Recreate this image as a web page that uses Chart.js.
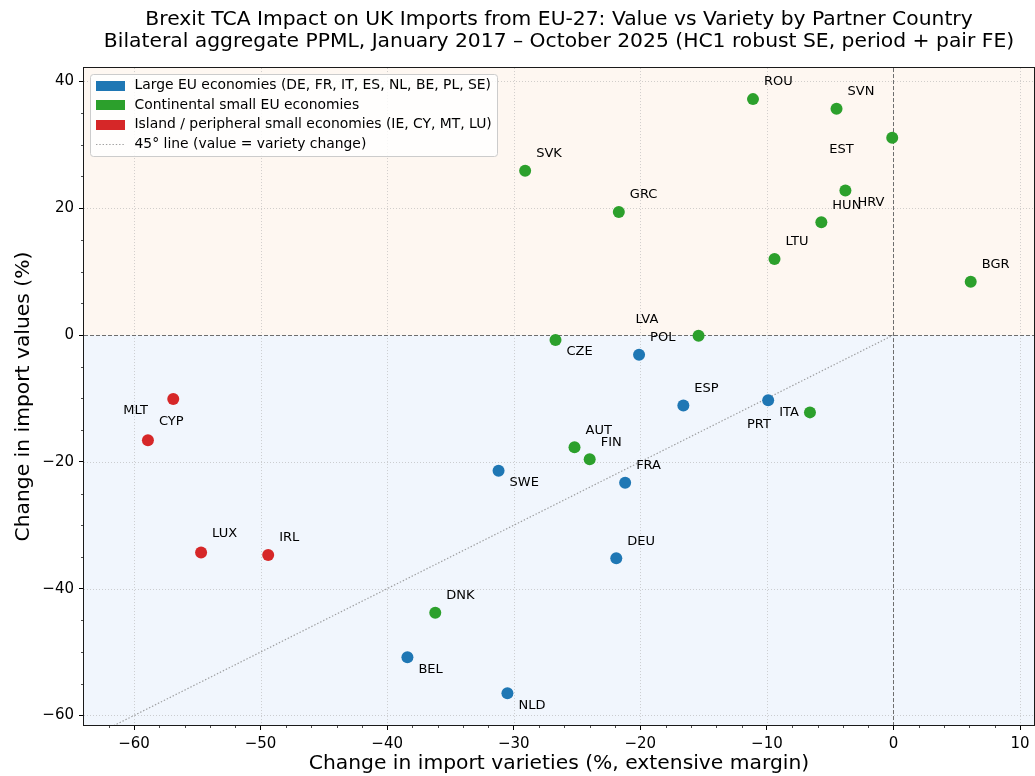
<!DOCTYPE html>
<html>
<head>
<meta charset="utf-8">
<script src="https://cdn.jsdelivr.net/npm/chart.js@4.4.1/dist/chart.umd.min.js"></script>
<style>
  html, body { margin: 0; padding: 0; background: #ffffff; }
  #wrap { width: 1035px; height: 776px; }
</style>
</head>
<body>
<div id="wrap"><canvas id="chart" width="1035" height="776"></canvas></div>
<script>
// Partner countries (ISO3) and their group
const countryCodes = ['DEU', 'FRA', 'ITA', 'ESP', 'NLD', 'BEL', 'POL', 'SWE',
  'AUT', 'CZE', 'DNK', 'EST', 'FIN', 'GRC', 'HRV', 'HUN', 'LVA', 'LTU', 'PRT', 'ROU', 'SVK', 'SVN', 'BGR',
  'IRL', 'CYP', 'MLT', 'LUX'];
const countryGroup = ['large', 'large', 'large', 'large', 'large', 'large', 'large', 'large',
  'continental', 'continental', 'continental', 'continental', 'continental', 'continental', 'continental',
  'continental', 'continental', 'continental', 'continental', 'continental', 'continental', 'continental', 'continental',
  'island', 'island', 'island', 'island'];
// Extensive margin: change in number of imported varieties (%)
const varietyChange = [-21.9, -21.2, -9.9, -16.6, -30.5, -38.4, -20.1, -31.2,
  -25.2, -26.7, -36.2, -0.1, -24.0, -21.7, -3.8, -5.7, -15.4, -9.4, -6.6, -11.1, -29.1, -4.5, 6.1,
  -49.4, -58.9, -56.9, -54.7];
// Change in import values (%)
const valueChange = [-35.2, -23.3, -10.3, -11.1, -56.5, -50.8, -3.1, -21.4,
  -17.7, -0.8, -43.8, 31.1, -19.6, 19.4, 22.8, 17.8, -0.1, 12.0, -12.2, 37.2, 25.9, 35.7, 8.4,
  -34.7, -16.6, -10.1, -34.3];

const groupKeys = ['large', 'continental', 'island'];
const groupNames = ['Large EU economies (DE, FR, IT, ES, NL, BE, PL, SE)',
  'Continental small EU economies',
  'Island / peripheral small economies (IE, CY, MT, LU)'];
const diagonalName = '45° line (value = variety change)';

const xTickValues = [-60, -50, -40, -30, -20, -10, 0, 10];
const yTickValues = [-60, -40, -20, 0, 20, 40];

const titleLines = ['Brexit TCA Impact on UK Imports from EU-27: Value vs Variety by Partner Country',
  'Bilateral aggregate PPML, January 2017 \u2013 October 2025 (HC1 robust SE, period + pair FE)'];
const xTitle = 'Change in import varieties (%, extensive margin)';
const yTitle = 'Change in import values (%)';

// ---- styling ----
const FONT = "'DejaVu Sans', Verdana, sans-serif";
const groupColors = { large: '#1f77b4', continental: '#2ca02c', island: '#d62728' };
const defaultLabelShift = [11, -17];
const labelShift = {
  EST: [-63, 12], HRV: [12, 12], LVA: [-63, -16], CZE: [11, 12], ITA: [11, 12], PRT: [-63, 12],
  SWE: [11, 12], MLT: [-50, 12], CYP: [11, -19], LUX: [11, -19], BEL: [11, 12], NLD: [11, 12]
};

const fmtTick = v => (v < 0 ? '\u2212' + Math.abs(v) : String(v));

const datasets = groupKeys.map((g, gi) => {
  const pts = [];
  countryCodes.forEach((c, i) => {
    if (countryGroup[i] === g) pts.push({ x: varietyChange[i], y: valueChange[i], code: c });
  });
  return {
    type: 'scatter', label: groupNames[gi], data: pts,
    backgroundColor: groupColors[g], borderColor: groupColors[g],
    pointRadius: 6, pointHoverRadius: 6, pointBorderWidth: 0, order: 1
  };
});
datasets.push({
  type: 'line', label: diagonalName,
  data: [{ x: -70, y: -70 }, { x: 0, y: 0 }],
  borderColor: 'rgba(128,128,128,0.75)', borderWidth: 1.2, borderDash: [1.4, 1.9],
  pointRadius: 0, fill: false, order: 5, isDiagonal: true
});

const decorPlugin = {
  id: 'decor',
  beforeDraw(chart) {
    const { ctx, chartArea: a, scales: { y } } = chart;
    ctx.save();
    ctx.fillStyle = '#ffffff';
    ctx.fillRect(0, 0, chart.width, chart.height);
    const y0 = y.getPixelForValue(0);
    ctx.fillStyle = 'rgb(254,247,241)';
    ctx.fillRect(a.left, a.top, a.right - a.left, y0 - a.top);
    ctx.fillStyle = 'rgb(241,246,253)';
    ctx.fillRect(a.left, y0, a.right - a.left, a.bottom - y0);
    ctx.restore();
  },
  beforeDatasetsDraw(chart) {
    const { ctx, chartArea: a, scales: { x, y } } = chart;
    ctx.save();
    ctx.beginPath();
    ctx.rect(a.left, a.top, a.right - a.left, a.bottom - a.top);
    ctx.clip();
    // dotted grid
    ctx.strokeStyle = 'rgba(176,176,176,0.65)';
    ctx.lineWidth = 0.9;
    ctx.setLineDash([1, 2]);
    x.ticks.forEach(t => {
      const px = Math.round(x.getPixelForValue(t.value)) + 0.5;
      ctx.beginPath(); ctx.moveTo(px, a.top); ctx.lineTo(px, a.bottom); ctx.stroke();
    });
    y.ticks.forEach(t => {
      const py = Math.round(y.getPixelForValue(t.value)) + 0.5;
      ctx.beginPath(); ctx.moveTo(a.left, py); ctx.lineTo(a.right, py); ctx.stroke();
    });
    // zero reference lines
    ctx.strokeStyle = '#6e6e6e';
    ctx.lineWidth = 1;
    ctx.setLineDash([4, 2]);
    const x0 = Math.round(x.getPixelForValue(0)) + 0.5;
    const y0 = Math.round(y.getPixelForValue(0)) + 0.5;
    ctx.beginPath(); ctx.moveTo(a.left, y0); ctx.lineTo(a.right, y0); ctx.stroke();
    ctx.beginPath(); ctx.moveTo(x0, a.top); ctx.lineTo(x0, a.bottom); ctx.stroke();
    ctx.restore();
  },
  afterDatasetsDraw(chart) {
    const { ctx } = chart;
    ctx.save();
    ctx.font = '13px ' + FONT;
    ctx.fillStyle = '#000000';
    ctx.textAlign = 'left';
    ctx.textBaseline = 'middle';
    chart.data.datasets.forEach((ds, di) => {
      if (ds.isDiagonal) return;
      const meta = chart.getDatasetMeta(di);
      meta.data.forEach((el, i) => {
        const code = ds.data[i].code;
        const s = labelShift[code] || defaultLabelShift;
        ctx.fillText(code, el.x + s[0], el.y + s[1]);
      });
    });
    ctx.restore();
  },
  afterDraw(chart) {
    const { ctx, chartArea: a, scales: { x, y } } = chart;
    ctx.save();
    // minor ticks
    ctx.strokeStyle = '#000000';
    ctx.lineWidth = 0.7;
    for (let v = -62; v <= 11; v += 2) {
      if (v % 10 === 0) continue;
      const px = Math.round(x.getPixelForValue(v)) + 0.5;
      if (px < a.left || px > a.right) continue;
      ctx.beginPath(); ctx.moveTo(px, a.bottom); ctx.lineTo(px, a.bottom + 3); ctx.stroke();
    }
    for (let v = -60; v <= 42; v += 5) {
      if (v % 20 === 0) continue;
      const py = Math.round(y.getPixelForValue(v)) + 0.5;
      ctx.beginPath(); ctx.moveTo(a.left, py); ctx.lineTo(a.left - 3, py); ctx.stroke();
    }
    // frame
    ctx.strokeStyle = '#1a1a1a';
    ctx.lineWidth = 1;
    ctx.strokeRect(Math.round(a.left) - 0.5, Math.round(a.top) - 0.5,
      Math.round(a.right - a.left) + 1, Math.round(a.bottom - a.top) + 1);

    // legend
    const bx = 90.5, by = 74.5, bw = 407, bh = 82;
    ctx.fillStyle = 'rgba(255,255,255,0.82)';
    ctx.strokeStyle = '#cccccc';
    ctx.beginPath();
    ctx.roundRect(bx, by, bw, bh, 3);
    ctx.fill(); ctx.stroke();
    ctx.font = '13.9px ' + FONT;
    ctx.textBaseline = 'middle';
    ctx.textAlign = 'left';
    const rows = chart.data.datasets.filter(d => !d.isDiagonal).concat(chart.data.datasets.filter(d => d.isDiagonal));
    rows.forEach((d, i) => {
      const cy = 85.5 + i * 19.6;
      if (d.isDiagonal) {
        ctx.strokeStyle = d.borderColor;
        ctx.lineWidth = 1.2;
        ctx.setLineDash([1.4, 1.9]);
        ctx.beginPath(); ctx.moveTo(96, Math.round(cy) + 0.5); ctx.lineTo(125, Math.round(cy) + 0.5); ctx.stroke();
        ctx.setLineDash([]);
      } else {
        ctx.fillStyle = d.backgroundColor;
        ctx.fillRect(96, Math.round(cy) - 5, 29, 10);
      }
      ctx.fillStyle = '#000000';
      ctx.fillText(d.label, 134.5, cy);
    });
    ctx.restore();
  }
};

new Chart(document.getElementById('chart'), {
  type: 'scatter',
  data: { datasets },
  options: {
    responsive: false,
    animation: false,
    devicePixelRatio: 1,
    layout: { autoPadding: false, padding: { left: 0, right: 1, top: 0, bottom: 0 } },
    plugins: {
      legend: { display: false },
      tooltip: { enabled: false },
      title: {
        display: true, fullSize: false, text: titleLines, color: '#000000',
        font: { family: FONT, size: 20.3, weight: 'normal', lineHeight: 1.085 },
        padding: { top: 9, bottom: 15 }
      }
    },
    scales: {
      x: {
        type: 'linear', position: 'bottom', min: -63.95, max: 11.1,
        afterFit(s) { s.height = 51; },
        afterBuildTicks(s) { s.ticks = xTickValues.map(v => ({ value: v })); },
        ticks: { callback: fmtTick, color: '#000000', font: { family: FONT, size: 15 }, padding: 5, maxRotation: 0, autoSkip: false },
        grid: { drawOnChartArea: false, drawTicks: true, tickLength: 5, tickColor: '#000000', tickWidth: 1 },
        border: { display: false },
        title: { display: true, text: xTitle, color: '#000000', font: { family: FONT, size: 20.3, lineHeight: 1.2 }, padding: { top: 0, bottom: 0 } }
      },
      y: {
        type: 'linear', position: 'left', min: -61.5, max: 42.1,
        afterFit(s) { s.width = 84; },
        afterBuildTicks(s) { s.ticks = yTickValues.map(v => ({ value: v })); },
        ticks: { callback: fmtTick, color: '#000000', font: { family: FONT, size: 15 }, padding: 5, autoSkip: false },
        grid: { drawOnChartArea: false, drawTicks: true, tickLength: 5, tickColor: '#000000', tickWidth: 1 },
        border: { display: false },
        title: { display: true, text: yTitle, color: '#000000', font: { family: FONT, size: 20.3, lineHeight: 1.2 }, padding: { top: 12, bottom: 0 } }
      }
    }
  },
  plugins: [decorPlugin]
});
</script>
</body>
</html>
